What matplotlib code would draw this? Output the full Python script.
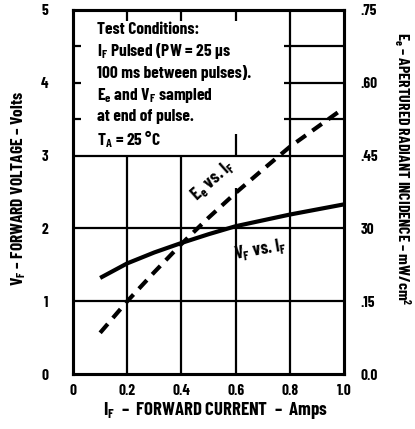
import matplotlib
matplotlib.use("Agg")
import matplotlib.pyplot as plt

# forward current (Amps) and the two curves
if_amps = [0.1, 0.2, 0.3, 0.4, 0.5, 0.6, 0.7, 0.8, 0.9, 1.0]
vf_volts = [1.32, 1.52, 1.67, 1.80, 1.92, 2.03, 2.11, 2.19, 2.26, 2.33]
ee_mw = [0.085, 0.150, 0.210, 0.268, 0.322, 0.373, 0.421, 0.468, 0.508, 0.548]

x_ticks = [0, 0.2, 0.4, 0.6, 0.8, 1.0]
x_labels = ["0", "0.2", "0.4", "0.6", "0.8", "1.0"]
vf_ticks = [0, 1, 2, 3, 4, 5]
ee_ticks = [0.0, 0.15, 0.30, 0.45, 0.60, 0.75]
ee_labels = ["0.0", ".15", "30", ".45", ".60", ".75"]

conditions = [
    "Test Conditions:",
    "I$_\\mathrm{F}$ Pulsed (PW = 25 µs",
    "100 ms between pulses).",
    "E$_\\mathrm{e}$ and V$_\\mathrm{F}$ sampled",
    "at end of pulse.",
    "T$_\\mathrm{A}$ = 25 °C",
]

plt.rcParams["font.family"] = ["Barlow Condensed", "DejaVu Sans"]
plt.rcParams["font.weight"] = "bold"
plt.rcParams["font.stretch"] = "condensed"
plt.rcParams["mathtext.fontset"] = "custom"
plt.rcParams["mathtext.rm"] = "Barlow Condensed:bold"
plt.rcParams["mathtext.it"] = "Barlow Condensed:bold"
plt.rcParams["mathtext.bf"] = "Barlow Condensed:bold"

fig = plt.figure(figsize=(4.15, 4.29), dpi=100)
ax = fig.add_axes([0.176, 0.128, 0.653, 0.849])
ax2 = ax.twinx()

ax.set_xlim(0, 1.0)
ax.set_ylim(0, 5)
ax2.set_ylim(0, 0.75)

# partial grid, like the printed chart (text block sits top-left)
gkw = dict(color="black", lw=1.6, zorder=1)
ax.hlines([1, 2, 3], 0, 1.0, **gkw)
ax.hlines([3.5, 4, 4.5], 0.78, 1.0, **gkw)
ax.hlines([3.5, 4, 4.5], 0, 0.03, **gkw)
ax.vlines([0.2, 0.4], 0, 3, **gkw)
ax.vlines([0.6], 0, 2.55, **gkw)
ax.vlines([0.6], 3, 3.3, **gkw)
ax.vlines([0.8], 0, 5, **gkw)
ax.vlines([0.2, 0.4, 0.6], 4.85, 5, **gkw)

ax.plot(if_amps, vf_volts, color="black", lw=3, solid_capstyle="butt", zorder=3)
ax2.plot(if_amps, ee_mw, color="black", lw=3, dashes=(2.8, 1.9), zorder=3)

for s in ["left", "right", "top", "bottom"]:
    ax.spines[s].set_linewidth(2.2)
    ax2.spines[s].set_linewidth(2.2)

ax.set_xticks(x_ticks)
ax.set_xticklabels(x_labels)
ax.set_yticks(vf_ticks)
ax2.set_yticks(ee_ticks)
ax2.set_yticklabels(ee_labels)
ax.tick_params(axis="both", length=0, labelsize=11)
ax.tick_params(axis="x", pad=7)
ax.tick_params(axis="y", pad=18)
ax2.tick_params(axis="y", length=0, labelsize=11, pad=12)

fig.text(0.52, 0.044, "I$_\\mathrm{F}$  –  FORWARD CURRENT  –  Amps", ha="center", va="center", fontsize=13.5)
fig.text(0.045, 0.56, "V$_\\mathrm{F}$ – FORWARD VOLTAGE – Volts", ha="center", va="center",
         rotation=90, fontsize=12.5)
fig.text(0.970, 0.607, "E$_\\mathrm{e}$ – APERTURED RADIANT INCIDENCE – mW/cm$^\\mathrm{2}$",
         ha="center", va="center", rotation=-90, fontsize=11.5)

for i, line in enumerate(conditions):
    ax.text(0.089, 4.73 - i * 0.30, line, ha="left", va="center", fontsize=12.5)

ax.text(0.515, 2.66, "E$_\\mathrm{e}$ vs. I$_\\mathrm{F}$", rotation=42, ha="center", va="center", fontsize=13)
ax.text(0.69, 1.71, "V$_\\mathrm{F}$ vs. I$_\\mathrm{F}$", rotation=10, ha="center", va="center", fontsize=13)

fig.savefig("out.png", dpi=100)
